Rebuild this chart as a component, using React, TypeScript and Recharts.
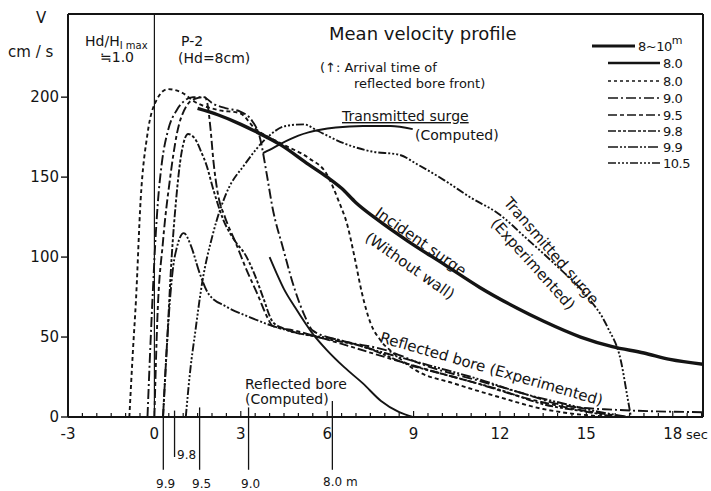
import React from 'react';
import { LineChart, Line, XAxis, YAxis, ReferenceLine } from 'recharts';

const W = 711;
const H = 491;
const INK = '#141414';
const FONT = '"DejaVu Sans", sans-serif';

// ---------- data (time in sec, velocity in cm/s) ----------
const incidentT = [1.5, 2.2, 3.0, 3.46, 4.4, 5.35, 6.0, 6.5, 7.0, 7.7, 8.8, 10.1, 11.3, 12.6, 13.5, 14.8, 15.9, 17.0, 17.9, 19.05];
const incidentV = [193, 189, 183, 179, 170, 158, 150, 143, 134, 124, 110, 95, 81, 68, 60, 50, 44, 40, 36, 33];

const transCompT = [3.77, 4.0, 4.4, 5.0, 5.35, 6.3, 7.24, 8.2, 8.97];
const transCompV = [165, 167, 171, 176, 178, 181, 182, 182, 180];

const reflCompT = [4.0, 4.24, 4.5, 4.87, 5.5, 5.98, 6.6, 7.24, 7.87, 8.5, 8.97];
const reflCompV = [100, 90, 80, 69, 52, 42, 31, 21, 10, 3, 0];

const g80T = [-0.87, -0.75, -0.64, -0.48, -0.24, 0.07, 0.46, 0.94, 1.41, 2.2, 2.97, 3.46, 4.4, 5.35, 5.98, 6.4, 6.7, 6.95, 7.2, 7.5, 7.85, 8.3, 9.1, 10.4, 11.96, 13.5, 15.1, 16.0];
const g80V = [0, 40, 73, 135, 177, 198, 205, 203, 197, 192, 190, 181, 171, 162, 152, 135, 120, 100, 78, 59, 48, 40, 29, 21, 12.5, 5, 1, 0];

const g90T = [-0.24, -0.15, -0.05, 0.05, 0.12, 0.26, 0.47, 0.78, 1.06, 1.34, 1.7, 2.03, 2.5, 2.98, 3.4, 3.66, 3.9, 4.1, 4.46, 4.87, 5.2, 5.5, 6.45, 8.0, 9.6, 11.2, 12.75, 14.3, 15.9, 19.05];
const g90V = [0, 40, 80, 115, 134, 159, 179, 192, 198, 200, 200, 196, 193, 191, 185, 175, 152, 131, 106, 80, 64, 54, 48, 42, 31, 23, 15, 7, 4.6, 3];

const g95T = [0.0, 0.1, 0.3, 0.55, 0.78, 1.1, 1.41, 1.75, 1.85, 1.95, 2.05, 2.2, 2.45, 2.8, 3.2, 3.6, 3.93, 4.1, 4.87, 6.45, 8.0, 9.6, 11.2, 12.75, 14.3, 15.6, 16.4];
const g95V = [0, 60, 110, 150, 177, 194, 199, 200, 195, 180, 160, 140, 125, 110, 92, 76, 62, 57, 54, 46, 37.5, 29, 21, 12.5, 6, 2, 0];

const g98T = [0.3, 0.45, 0.6, 0.75, 0.94, 1.17, 1.41, 1.62, 1.8, 2.05, 2.4, 2.8, 3.14, 3.46, 3.77, 4.09, 4.4, 5.66, 7.24, 8.8, 10.4, 12.0, 13.5, 15.1, 16.05];
const g98V = [0, 50, 100, 135, 165, 177, 174, 166, 158, 142, 123, 110, 102, 90, 75, 60, 56, 50, 44, 33, 25, 17, 8, 3, 0];

const g99T = [0.3, 0.42, 0.54, 0.66, 0.78, 1.02, 1.25, 1.57, 1.88, 2.5, 3.3, 4.09, 4.87, 6.45, 8.0, 9.6, 11.2, 12.75, 14.3, 15.5, 16.5];
const g99V = [0, 40, 73, 95, 106, 115, 108, 90, 77, 69, 62.5, 57, 53, 48, 40, 32, 24, 15, 8, 3, 0];

const g105T = [1.09, 1.25, 1.41, 1.65, 2.04, 2.5, 3.14, 3.93, 4.56, 5.19, 5.66, 6.6, 7.55, 8.5, 9.13, 10.07, 11.0, 11.96, 12.9, 14.0, 14.95, 15.74, 16.2, 16.45, 16.55];
const g105V = [0, 30, 52, 83, 115, 140, 158, 175, 182, 183, 179, 171, 166, 164, 158, 148, 137, 127, 112, 94, 77, 56, 35, 10, 0];

// arrival times of reflected bore front (below the axis)
const markerT = [0.31, 0.7, 1.57, 3.27, 6.18];
const markerTopV = [2, 4, 6, 6, 10];
const markerBottomV = [-33, -25, -33, -33, -33];

const xTicks = [-3, 0, 3, 6, 9, 12, 15, 18];
const yTicks = [0, 50, 100, 150, 200];
const X_MIN = -3;
const X_MAX = 19.05;
const Y_MAX = 252;

const legendLabels = ['8~10', '8.0', '8.0', '9.0', '9.5', '9.8', '9.9', '10.5'];

// ---------- series definitions ----------
const toData = (ts: number[], vs: number[]) => ts.map((t, i) => ({ t, v: vs[i] }));

type Series = { key: string; t: number[]; v: number[]; dash?: string; width: number };

const series: Series[] = [
  { key: 'incident', t: incidentT, v: incidentV, width: 3.4 },
  { key: 'transComp', t: transCompT, v: transCompV, width: 1.9 },
  { key: 'reflComp', t: reflCompT, v: reflCompV, width: 1.9 },
  { key: 'g80', t: g80T, v: g80V, dash: '4 3', width: 1.9 },
  { key: 'g90', t: g90T, v: g90V, dash: '10 3 2 3', width: 1.9 },
  { key: 'g95', t: g95T, v: g95V, dash: '9 3 4 3', width: 1.9 },
  { key: 'g98', t: g98T, v: g98V, dash: '8 2 3 2 3 2', width: 1.9 },
  { key: 'g99', t: g99T, v: g99V, dash: '10 2 2 2 2 2', width: 1.9 },
  { key: 'g105', t: g105T, v: g105V, dash: '8 2 2 2 2 2 2 2', width: 1.9 },
];

const legendStyles = [
  { dash: undefined, width: 3 },
  { dash: undefined, width: 2.6 },
  { dash: '3 3', width: 1.7 },
  { dash: '10 3 2 3', width: 1.7 },
  { dash: '9 3 4 3', width: 1.7 },
  { dash: '8 2 3 2 3 2', width: 1.7 },
  { dash: '10 2 2 2 2 2', width: 1.7 },
  { dash: '8 2 2 2 2 2 2 2', width: 1.7 },
];
const legendRowY = [46, 63, 81, 98, 115, 131, 147, 163];

const minorTicks: number[] = [];
for (let k = 0; k <= 44; k++) minorTicks.push(X_MIN + k * 0.5);

const XTick = (props: any) => {
  const { x, y, payload } = props;
  const val = payload.value;
  const major = xTicks.some((m) => Math.abs(m - val) < 1e-6);
  return (
    <g>
      <line x1={x} x2={x} y1={y} y2={y - (major ? 6 : 4)} stroke={INK} strokeWidth={1.2} />
      {major && (
        <text x={x} y={y + 22} textAnchor="middle" fontSize={15} fontFamily={FONT} fill={INK}>
          {val}
        </text>
      )}
    </g>
  );
};

const textStyle = { fontFamily: FONT, fill: INK } as const;

export default function App() {
  return (
    <div style={{ position: 'absolute', left: 0, top: 0, width: W, height: H, background: '#fff' }}>
      <LineChart width={W} height={H} margin={{ top: 14, right: 8, left: 0, bottom: 0 }}>
        <XAxis
          type="number"
          dataKey="t"
          domain={[X_MIN, X_MAX]}
          ticks={minorTicks}
          interval={0}
          allowDataOverflow
          height={74}
          tickLine={false}
          tickSize={0}
          tickMargin={0}
          tick={<XTick />}
          axisLine={{ stroke: INK, strokeWidth: 2 }}
        />
        <YAxis
          type="number"
          domain={[0, Y_MAX]}
          ticks={yTicks}
          allowDataOverflow
          width={68}
          tickSize={7}
          tickMargin={2}
          tickLine={{ stroke: INK, strokeWidth: 1.4 }}
          axisLine={{ stroke: INK, strokeWidth: 2 }}
          tick={{ fontSize: 15, fontFamily: FONT, fill: INK }}
        />
        <ReferenceLine y={Y_MAX} stroke={INK} strokeWidth={2} />
        <ReferenceLine x={X_MAX} stroke={INK} strokeWidth={2} />
        <ReferenceLine x={0} stroke={INK} strokeWidth={1.2} />
        {markerT.map((t, i) => (
          <ReferenceLine
            key={'m' + i}
            ifOverflow="visible"
            segment={[
              { x: t, y: markerTopV[i] },
              { x: t, y: markerBottomV[i] },
            ]}
            stroke={INK}
            strokeWidth={1.3}
          />
        ))}
        {series.map((s) => (
          <Line
            key={s.key}
            data={toData(s.t, s.v)}
            dataKey="v"
            type="monotone"
            stroke={INK}
            strokeWidth={s.width}
            strokeDasharray={s.dash}
            dot={false}
            activeDot={false}
            isAnimationActive={false}
          />
        ))}
      </LineChart>

      <svg
        width={W}
        height={H}
        style={{ position: 'absolute', left: 0, top: 0, pointerEvents: 'none' }}
      >
        {/* axis titles */}
        <text x={36} y={23} fontSize={15} {...textStyle}>V</text>
        <text x={8} y={57} fontSize={15} {...textStyle}>cm / s</text>
        <text x={686} y={439} fontSize={13} {...textStyle}>sec</text>

        {/* header texts */}
        <text x={85} y={46} fontSize={14} {...textStyle}>
          Hd/H<tspan fontSize={10} dy={3}>I max</tspan>
        </text>
        <text x={100} y={62} fontSize={14} {...textStyle}>≒1.0</text>
        <text x={181} y={46} fontSize={14} {...textStyle}>P-2</text>
        <text x={178} y={63} fontSize={14} {...textStyle}>(Hd=8cm)</text>
        <text x={329} y={40} fontSize={18} {...textStyle}>Mean velocity profile</text>
        <text x={320} y={72} fontSize={13} {...textStyle}>(↑: Arrival time of</text>
        <text x={354} y={88} fontSize={13} {...textStyle}>reflected bore front)</text>

        {/* legend */}
        {legendStyles.map((st, i) => (
          <g key={'lg' + i}>
            <line
              x1={i === 0 ? 592 : 608}
              x2={i === 0 ? 635 : 660}
              y1={legendRowY[i]}
              y2={legendRowY[i]}
              stroke={INK}
              strokeWidth={st.width}
              strokeDasharray={st.dash}
            />
            <text
              x={i === 0 ? 638 : 663}
              y={legendRowY[i] + 5}
              fontSize={13}
              letterSpacing={-0.5}
              {...textStyle}
            >
              {legendLabels[i]}
              {i === 0 && (
                <tspan fontSize={11} dy={-7}>m</tspan>
              )}
            </text>
          </g>
        ))}

        {/* curve annotations */}
        <text x={342} y={121} fontSize={14} textDecoration="underline" {...textStyle}>Transmitted surge</text>
        <text x={415} y={140} fontSize={14} {...textStyle}>(Computed)</text>
        <text x={374} y={215} fontSize={15} transform="rotate(35 374 215)" {...textStyle}>Incident surge</text>
        <text x={364} y={240} fontSize={15} transform="rotate(35 364 240)" {...textStyle}>(Without wall)</text>
        <text x={503} y={203} fontSize={15} transform="rotate(49 503 203)" {...textStyle}>Transmitted surge</text>
        <text x={490} y={224} fontSize={15} transform="rotate(48 490 224)" {...textStyle}>(Experimented)</text>
        <text x={379} y={342} fontSize={15} transform="rotate(16 379 342)" {...textStyle}>Reflected bore (Experimented)</text>
        <text x={245} y={389} fontSize={14} {...textStyle}>Reflected bore</text>
        <text x={245} y={404} fontSize={14} {...textStyle}>(Computed)</text>

        {/* arrival-time marker labels */}
        <text x={156} y={488} fontSize={12} {...textStyle}>9.9</text>
        <text x={177} y={459} fontSize={12} {...textStyle}>9.8</text>
        <text x={192} y={488} fontSize={12} {...textStyle}>9.5</text>
        <text x={241} y={488} fontSize={12} {...textStyle}>9.0</text>
        <text x={323} y={486} fontSize={12} {...textStyle}>8.0 m</text>
      </svg>
    </div>
  );
}
